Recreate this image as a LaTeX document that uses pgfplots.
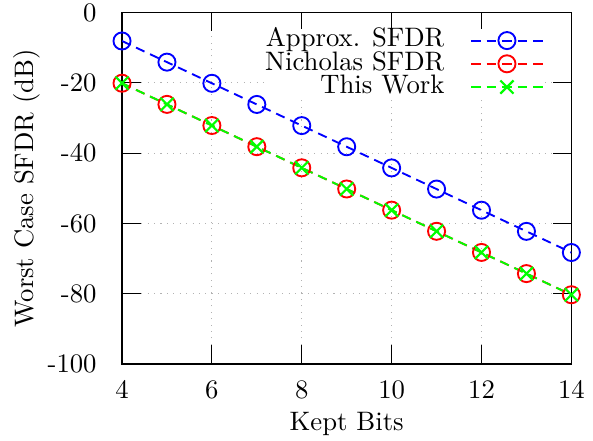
\documentclass[border=0pt]{standalone}
\usepackage{pgfplots}
\pgfplotsset{compat=1.18}
\begin{document}
\begin{tikzpicture}
\begin{axis}[
  name=ax,
  scale only axis,
  width=168.3pt, height=131.6pt,
  xmin=4, xmax=14, ymin=-100, ymax=0,
  xtick={4,6,8,10,12,14},
  ytick={-100,-80,-60,-40,-20,0},
  yticklabels={-100,-80,-60,-40,-20,0},
  yticklabel style={xshift=-6pt},
  xticklabel style={yshift=-3pt},
  tick align=inside,
  major tick length=7pt,
  tick style={black, line width=0.4pt},
  grid=major,
  major grid style={dotted, gray!60, line width=0.4pt},
  axis line style={line width=0.5pt},
  xlabel={Kept Bits},
  ylabel={Worst Case SFDR (dB)},
  xlabel style={at={(axis description cs:0.5,0)}, anchor=base, yshift=-25pt},
  ylabel style={at={(axis description cs:0,0.5)}, anchor=base, rotate=0, yshift=33.3pt},
  legend plot pos=right,
  legend cell align=right,
  legend style={draw=none, fill=white, at={(axis description cs:1,1)}, anchor=north east,
    xshift=-10.2pt, yshift=-5.9pt,
    row sep=0pt, inner sep=0pt,
    nodes={inner sep=0pt, text height=6.7pt, text depth=2pt},
    /tikz/every odd column/.append style={column sep=9.7pt}},
  legend image code/.code={\draw[mark repeat=2,mark phase=2,#1] plot coordinates {(0cm,0cm)(0.47cm,0cm)(0.94cm,0cm)};},
]
\addplot[blue, line width=0.7pt, dash pattern=on 3.5pt off 2.3pt, mark=o, mark size=3.2pt, mark options={solid, line width=0.7pt}]
coordinates {(4,-8.06)(5,-14.08)(6,-20.10)(7,-26.12)(8,-32.14)(9,-38.16)(10,-44.18)(11,-50.20)(12,-56.22)(13,-62.24)(14,-68.26)};
\addlegendentry{Approx. SFDR}
\addplot[red, line width=0.7pt, dash pattern=on 3.5pt off 2.3pt, mark=o, mark size=3.2pt, mark options={solid, line width=0.7pt}]
coordinates {(4,-20.08)(5,-26.10)(6,-32.12)(7,-38.14)(8,-44.16)(9,-50.18)(10,-56.20)(11,-62.22)(12,-68.24)(13,-74.26)(14,-80.28)};
\addlegendentry{Nicholas SFDR}
\addplot[green, line width=0.7pt, dash pattern=on 3.5pt off 2.3pt, mark=x, mark size=3.5pt, mark options={solid, line width=0.8pt}]
coordinates {(4,-20.08)(5,-26.10)(6,-32.12)(7,-38.14)(8,-44.16)(9,-50.18)(10,-56.20)(11,-62.22)(12,-68.24)(13,-74.26)(14,-80.28)};
\addlegendentry{This Work}
\end{axis}
\pgfresetboundingbox
\path[use as bounding box] ([xshift=-45.7pt,yshift=-28.5pt]ax.south west) rectangle ([xshift=8.1pt,yshift=4.75pt]ax.north east);
\end{tikzpicture}
\end{document}
